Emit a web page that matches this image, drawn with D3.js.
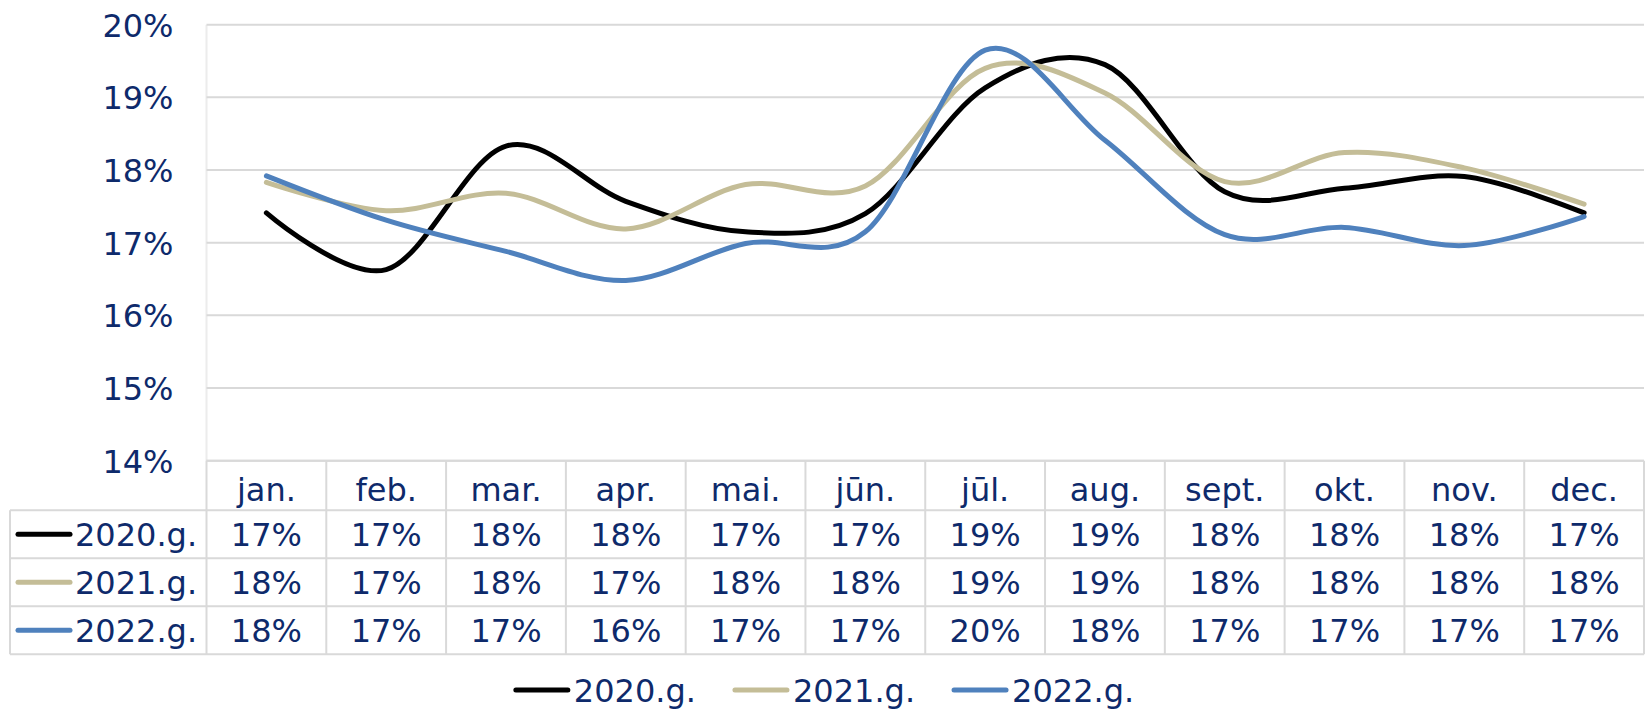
<!DOCTYPE html>
<html>
<head>
<meta charset="utf-8">
<script src="https://cdn.jsdelivr.net/npm/d3@7"></script>
<style>
  html, body { margin: 0; padding: 0; background: #ffffff; }
  svg { display: block; }
  text { font-family: "DejaVu Sans", Verdana, sans-serif; fill: #0e2a6b; }
</style>
</head>
<body>
<svg id="chart" width="1648" height="710"></svg>
<script>
// ---- data ----
const months = ["jan.", "feb.", "mar.", "apr.", "mai.", "jūn.", "jūl.", "aug.", "sept.", "okt.", "nov.", "dec."];
const seriesNames = ["2020.g.", "2021.g.", "2022.g."];
const seriesColors = ["#000000", "#c4bd97", "#4f81bd"];
const values2020 = [0.1741, 0.1663, 0.1833, 0.1757, 0.1715, 0.1740, 0.1913, 0.1945, 0.1770, 0.1775, 0.1791, 0.1741];
const values2021 = [0.1783, 0.1744, 0.1768, 0.1719, 0.1780, 0.1778, 0.1940, 0.1906, 0.1784, 0.1824, 0.1803, 0.1753];
const values2022 = [0.1792, 0.1731, 0.1688, 0.1648, 0.1699, 0.1715, 0.1965, 0.1841, 0.1711, 0.1721, 0.1696, 0.1736];
const yTicks = [0.14, 0.15, 0.16, 0.17, 0.18, 0.19, 0.20];

const seriesValues = [values2020, values2021, values2022];

// ---- layout ----
const W = 1648, H = 710;
const plotLeft = 206.5, plotRight = 1644, plotTop = 24.7, plotBottom = 460.7;
const tableLeft = 10;
const headerH = 49.5, rowH = 48;
const fontSize = 32;
const gridColor = "#d9d9d9";

const svg = d3.select("#chart");
const fmt = d3.format(".0%");

const x = d3.scaleBand().domain(months).range([plotLeft, plotRight]).padding(0);
const y = d3.scaleLinear().domain([0.14, 0.20]).range([plotBottom, plotTop]);
const cx = m => x(m) + x.bandwidth() / 2;

// left plot border
svg.append("line")
  .attr("x1", plotLeft).attr("x2", plotLeft)
  .attr("y1", plotTop).attr("y2", plotBottom)
  .attr("stroke", "#ececec").attr("stroke-width", 2);

// gridlines
svg.append("g").selectAll("line").data(yTicks).join("line")
  .attr("x1", plotLeft).attr("x2", plotRight)
  .attr("y1", d => y(d)).attr("y2", d => y(d))
  .attr("stroke", gridColor).attr("stroke-width", 2);

// y axis labels
const yAxis = d3.axisLeft(y).tickValues(yTicks).tickFormat(fmt).tickSize(0).tickPadding(33);
const ya = svg.append("g").attr("transform", `translate(${plotLeft},0)`).call(yAxis);
ya.select(".domain").remove();
ya.selectAll("text")
  .attr("font-size", fontSize)
  .attr("font-family", '"DejaVu Sans", Verdana, sans-serif')
  .attr("fill", "#0e2a6b")
  .attr("dy", "0.36em");

// lines
const line = d3.line()
  .x((d, i) => cx(months[i]))
  .y(d => y(d))
  .curve(d3.curveCardinal.tension(0));

svg.append("g").selectAll("path").data(seriesValues).join("path")
  .attr("d", d => line(d))
  .attr("fill", "none")
  .attr("stroke", (d, i) => seriesColors[i])
  .attr("stroke-width", 5)
  .attr("stroke-linecap", "round")
  .attr("stroke-linejoin", "round");

// ---- data table ----
const tbl = svg.append("g");
const hTop = plotBottom;
const rowTops = [hTop + headerH, hTop + headerH + rowH, hTop + headerH + 2 * rowH];
const tableBottom = hTop + headerH + 3 * rowH;

// horizontal borders
tbl.append("line").attr("x1", plotLeft).attr("x2", plotRight).attr("y1", hTop).attr("y2", hTop);
[...rowTops, tableBottom].forEach(yy => {
  tbl.append("line").attr("x1", tableLeft).attr("x2", plotRight).attr("y1", yy).attr("y2", yy);
});
// vertical borders
tbl.append("line").attr("x1", tableLeft).attr("x2", tableLeft).attr("y1", rowTops[0]).attr("y2", tableBottom);
const colEdges = months.map(m => x(m)).concat([plotRight]);
colEdges.forEach(xx => {
  tbl.append("line").attr("x1", xx).attr("x2", xx).attr("y1", hTop).attr("y2", tableBottom);
});
tbl.selectAll("line").attr("stroke", gridColor).attr("stroke-width", 2);

// header texts
tbl.append("g").selectAll("text").data(months).join("text")
  .attr("x", d => cx(d))
  .attr("y", hTop + headerH - 9)
  .attr("text-anchor", "middle")
  .attr("font-size", fontSize)
  .text(d => d);

// rows
seriesValues.forEach((vals, si) => {
  const top = rowTops[si];
  const mid = top + rowH / 2;
  // legend key
  tbl.append("line")
    .attr("x1", 18).attr("x2", 70)
    .attr("y1", mid).attr("y2", mid)
    .attr("stroke", seriesColors[si]).attr("stroke-width", 5)
    .attr("stroke-linecap", "round");
  tbl.append("text")
    .attr("x", 75).attr("y", mid + 11.5)
    .attr("font-size", fontSize)
    .text(seriesNames[si]);
  tbl.append("g").selectAll("text").data(vals).join("text")
    .attr("x", (d, i) => cx(months[i]))
    .attr("y", mid + 11.5)
    .attr("text-anchor", "middle")
    .attr("font-size", fontSize)
    .text(d => fmt(d));
});

// ---- bottom legend ----
const leg = svg.append("g");
const lineLen = 52, lineGap = 6, itemGap = 37;
const legY = 690;
let cursor = 0;
seriesNames.forEach((name, i) => {
  const g = leg.append("g");
  g.append("line")
    .attr("x1", 2).attr("x2", 2 + lineLen)
    .attr("y1", legY).attr("y2", legY)
    .attr("stroke", seriesColors[i]).attr("stroke-width", 5)
    .attr("stroke-linecap", "round");
  const t = g.append("text")
    .attr("x", 2 + lineLen + lineGap).attr("y", legY + 11.5)
    .attr("font-size", fontSize)
    .text(name);
  const w = 2 + lineLen + lineGap + t.node().getComputedTextLength();
  g.attr("transform", `translate(${cursor},0)`);
  cursor += w + itemGap;
});
const totalW = cursor - itemGap;
leg.attr("transform", `translate(${W / 2 - totalW / 2},0)`);
</script>
</body>
</html>
